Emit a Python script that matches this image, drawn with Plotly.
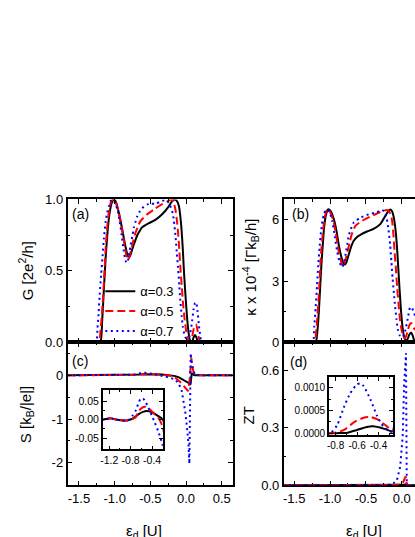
import plotly.graph_objects as go

# ---------------- data ----------------
labels = ["α=0.3", "α=0.5", "α=0.7"]

# (a) conductance G [2e^2/h]
G_x_03 = [-1.66, -1.25, -1.2, -1.175, -1.149, -1.125, -1.10, -1.075, -1.05, -1.025, -1.005, -0.98, -0.94, -0.905,
          -0.87, -0.835, -0.81, -0.795, -0.775, -0.755, -0.72, -0.685, -0.65, -0.615, -0.52, -0.43, -0.335, -0.242,
          -0.2, -0.16, -0.13, -0.10, -0.08, -0.065, -0.045, -0.032, -0.015, 0.0, 0.015, 0.03, 0.045, 0.06, 0.075,
          0.09, 0.105, 0.125, 0.145, 0.16, 0.175, 0.655]
G_y_03 = [0, 0, 0.0, 0.15, 0.39, 0.6, 0.77, 0.89, 0.96, 0.995, 1.0, 0.98, 0.905, 0.82,
          0.725, 0.64, 0.6, 0.594, 0.615, 0.65, 0.70, 0.748, 0.78, 0.805, 0.834, 0.857, 0.896, 0.952,
          0.985, 1.0, 0.99, 0.955, 0.88, 0.8, 0.65, 0.52, 0.38, 0.27, 0.17, 0.09, 0.035, 0.008, 0.0,
          0.01, 0.035, 0.052, 0.035, 0.01, 0.0, 0]
G_x_05 = [-1.66, -1.26, -1.22, -1.195, -1.17, -1.145, -1.125, -1.1, -1.07, -1.045, -1.02, -0.99, -0.95, -0.915,
          -0.883, -0.855, -0.832, -0.818, -0.8, -0.78, -0.763, -0.735, -0.707, -0.67, -0.637, -0.59, -0.544,
          -0.451, -0.358, -0.265, -0.205, -0.175, -0.149, -0.13, -0.112, -0.095, -0.079, -0.06, -0.042, -0.02,
          0.0, 0.02, 0.04, 0.065, 0.085, 0.105, 0.125, 0.14, 0.155, 0.175, 0.19, 0.2, 0.655]
G_y_05 = [0, 0, 0.0, 0.1, 0.26, 0.47, 0.67, 0.83, 0.95, 0.99, 1.0, 0.985, 0.92, 0.84,
          0.75, 0.66, 0.6, 0.578, 0.59, 0.625, 0.66, 0.72, 0.77, 0.815, 0.85, 0.875, 0.896,
          0.93, 0.96, 0.985, 1.0, 0.98, 0.93, 0.86, 0.77, 0.65, 0.52, 0.39, 0.27, 0.16,
          0.086, 0.035, 0.01, 0.01, 0.04, 0.09, 0.12, 0.125, 0.1, 0.04, 0.01, 0.0, 0]
G_x_07 = [-1.66, -1.28, -1.255, -1.24, -1.225, -1.21, -1.19, -1.17, -1.15, -1.125, -1.1, -1.08, -1.055, -1.03,
          -1.0, -0.962, -0.93, -0.902, -0.875, -0.846, -0.827, -0.81, -0.795, -0.776, -0.75, -0.73, -0.705,
          -0.683, -0.65, -0.614, -0.52, -0.428, -0.335, -0.28, -0.24, -0.195, -0.17, -0.149, -0.13, -0.112,
          -0.095, -0.08, -0.06, -0.046, -0.025, -0.01, 0.01, 0.035, 0.06, 0.085, 0.105, 0.125, 0.14, 0.16,
          0.18, 0.2, 0.22, 0.655]
G_y_07 = [0, 0, 0.0, 0.1, 0.2, 0.33, 0.47, 0.6, 0.73, 0.85, 0.92, 0.955, 0.99, 1.0,
          0.98, 0.93, 0.85, 0.75, 0.65, 0.57, 0.556, 0.58, 0.625, 0.68, 0.75, 0.805, 0.85,
          0.884, 0.915, 0.94, 0.97, 0.97, 0.99, 0.995, 0.975, 0.92, 0.85, 0.75, 0.63, 0.52,
          0.4, 0.29, 0.18, 0.11, 0.06, 0.035, 0.025, 0.03, 0.07, 0.15, 0.23, 0.275, 0.28, 0.22,
          0.12, 0.04, 0.0, 0]

# (b) thermal conductance kappa x 10^-4 [Gamma k_B/h]
K_x_03 = [-1.647, -1.25, -1.2, -1.175, -1.155, -1.135, -1.118, -1.1, -1.085, -1.06, -1.035, -1.02, -0.99,
          -0.947, -0.91, -0.878, -0.84, -0.81, -0.795, -0.775, -0.74, -0.7, -0.67, -0.62, -0.578, -0.485,
          -0.393, -0.3, -0.231, -0.19, -0.162, -0.135, -0.116, -0.09, -0.069, -0.05, -0.033, -0.012, 0.009,
          0.03, 0.055, 0.08, 0.105, 0.129, 0.15, 0.17, 0.184]
K_y_03 = [0, 0, 0, 0.6, 1.59, 2.9, 3.97, 4.85, 5.56, 6.2, 6.48, 6.52, 6.42,
          6.03, 5.45, 4.76, 4.15, 3.85, 3.81, 3.9, 4.29, 4.75, 4.98, 5.17, 5.27, 5.43,
          5.56, 5.79, 6.19, 6.42, 6.51, 6.42, 6.19, 5.6, 4.76, 3.7, 2.7, 1.6, 0.79,
          0.3, 0.12, 0.16, 0.38, 0.48, 0.35, 0.12, 0.0]
K_x_05 = [-1.647, -1.26, -1.215, -1.19, -1.164, -1.145, -1.127, -1.105, -1.085, -1.06, -1.039, -1.01, -0.96,
          -0.92, -0.887, -0.85, -0.818, -0.8, -0.762, -0.73, -0.702, -0.647, -0.554, -0.439, -0.324, -0.25,
          -0.208, -0.175, -0.148, -0.13, -0.116, -0.1, -0.083, -0.065, -0.046, -0.025, 0.0, 0.02, 0.037,
          0.06, 0.085, 0.11, 0.13, 0.15, 0.17, 0.184]
K_y_05 = [0, 0, 0, 0.7, 1.9, 3.1, 4.29, 5.2, 5.87, 6.35, 6.51, 6.45, 6.03,
          5.35, 4.6, 4.0, 3.73, 3.85, 4.37, 4.85, 5.24, 5.71, 5.95, 6.16, 6.35, 6.45,
          6.48, 6.4, 6.19, 5.8, 5.24, 4.4, 3.65, 2.7, 1.9, 1.1, 0.56, 0.3, 0.2,
          0.3, 0.6, 0.88, 0.95, 0.85, 0.7, 0.6]
K_x_07 = [-1.647, -1.28, -1.238, -1.22, -1.2, -1.182, -1.164, -1.145, -1.127, -1.105, -1.085, -1.065, -1.048,
          -1.01, -0.97, -0.935, -0.9, -0.865, -0.831, -0.81, -0.785, -0.76, -0.739, -0.7, -0.67, -0.578,
          -0.462, -0.347, -0.277, -0.24, -0.208, -0.185, -0.162, -0.145, -0.129, -0.11, -0.093, -0.075,
          -0.055, -0.03, 0.0, 0.03, 0.06, 0.09, 0.115, 0.135, 0.16, 0.184]
K_y_07 = [0, 0, 0, 0.8, 1.75, 2.8, 3.81, 4.7, 5.4, 5.95, 6.27, 6.45, 6.51,
          6.4, 5.95, 5.2, 4.44, 3.9, 3.68, 3.85, 4.29, 4.8, 5.24, 5.65, 5.87, 6.11,
          6.27, 6.38, 6.48, 6.4, 6.03, 5.5, 4.76, 3.95, 3.17, 2.4, 1.75, 1.15,
          0.63, 0.35, 0.24, 0.35, 0.75, 1.3, 1.7, 1.72, 1.55, 1.3]

# (c) thermopower S [k_B/|e|]
S_x_03 = [-1.66, -1.4, -1.32, -1.25, -1.18, -1.12, -1.05, -0.95, -0.87, -0.77, -0.71, -0.65, -0.57, -0.5,
          -0.42, -0.34, -0.27, -0.21, -0.15, -0.1, -0.05, -0.02, 0.01, 0.03, 0.05, 0.06, 0.07, 0.08, 0.095,
          0.12, 0.2, 0.655]
S_y_03 = [0, 0, 0, 0.002, 0.004, 0.002, 0, -0.002, -0.002, 0.002, 0.008, 0.015, 0.021, 0.023,
          0.021, 0.015, 0.008, 0.002, -0.02, -0.05, -0.09, -0.12, -0.15, -0.17, -0.2, -0.22, -0.1, 0.05, 0.02,
          0, 0, 0]
S_x_05 = [-1.66, -1.4, -1.32, -1.25, -1.18, -1.12, -1.05, -0.95, -0.87, -0.77, -0.71, -0.65, -0.59, -0.53,
          -0.47, -0.41, -0.35, -0.29, -0.21, -0.15, -0.1, -0.05, -0.01, 0.028, 0.05, 0.062, 0.074, 0.085,
          0.1, 0.13, 0.2, 0.655]
S_y_05 = [0, 0, 0, 0.002, 0.004, 0.002, 0, -0.002, -0.002, 0.002, 0.006, 0.023, 0.032, 0.035,
          0.031, 0.023, 0.014, 0.006, -0.016, -0.06, -0.12, -0.2, -0.29, -0.36, -0.1, 0.2, 0.39, 0.25,
          0.1, 0.0, 0, 0]
S_x_07 = [-1.66, -1.4, -1.32, -1.25, -1.18, -1.12, -1.05, -0.95, -0.87, -0.83, -0.77, -0.71, -0.66, -0.62,
          -0.57, -0.52, -0.47, -0.43, -0.39, -0.35, -0.29, -0.22, -0.15, -0.1, -0.06, -0.03, -0.01, 0.014,
          0.035, 0.046, 0.055, 0.065, 0.08, 0.095, 0.12, 0.2, 0.655]
S_y_07 = [0, 0, 0, 0.002, 0.004, 0.002, 0, -0.002, -0.002, 0.0, 0.01, 0.023, 0.042, 0.055,
          0.057, 0.048, 0.032, 0.02, 0.006, -0.008, -0.03, -0.06, -0.1, -0.2, -0.36, -0.61, -0.85, -1.21,
          -1.6, -2.02, -0.8, 0.5, 0.25, 0.14, 0.02, 0, 0]

# (d) figure of merit ZT
Z_x_03 = [-1.65, -0.9, -0.785, -0.69, -0.6, -0.51, -0.45, -0.354, -0.277, -0.2, -0.1, 0.0, 0.04, 0.07,
          0.085, 0.65]
Z_y_03 = [0, 0, 0, 0.00001, 0.00007, 0.000135, 0.00015, 0.0001, 0.00004, 0.00005, 0.0003, 0.002, 0.004,
          0.006, 0.0, 0]
Z_x_05 = [-1.65, -0.9, -0.83, -0.72, -0.631, -0.54, -0.477, -0.415, -0.338, -0.277, -0.2, -0.1, -0.02,
          0.013, 0.035, 0.05, 0.06, 0.07, 0.1, 0.65]
Z_y_05 = [0, 0, 0, 0.00007, 0.00024, 0.00034, 0.00036, 0.00031, 0.00018, 0.00007, 0.0001, 0.001, 0.004,
          0.012, 0.03, 0.045, 0.04, 0.0, 0, 0]
Z_x_07 = [-1.65, -0.9, -0.846, -0.785, -0.723, -0.662, -0.6, -0.57, -0.539, -0.477, -0.415, -0.354, -0.277,
          -0.2, -0.116, -0.07, -0.023, 0.013, 0.032, 0.05, 0.058, 0.069, 0.1, 0.65]
Z_y_07 = [0, 0, 0, 0.00018, 0.00057, 0.00089, 0.00108, 0.0011, 0.00104, 0.00075, 0.00039, 0.00014, 0.00003,
          0.001, 0.01, 0.025, 0.095, 0.26, 0.52, 0.68, 0.69, 0.0, 0, 0]

# tick labels
x_main_ticks = [-1.5, -1.0, -0.5, 0.0, 0.5]
x_main_text = ["-1.5", "-1.0", "-0.5", "0.0", "0.5"]
G_ticks = [0.0, 0.5, 1.0]
G_text = ["0.0", "0.5", "1.0"]
K_ticks = [0, 3, 6]
K_text = ["0", "3", "6"]
S_ticks = [-2, -1, 0]
S_text = ["-2", "-1", "0"]
Z_ticks = [0.0, 0.3, 0.6]
Z_text = ["0.0", "0.3", "0.6"]
Sin_xticks = [-1.2, -0.8, -0.4]
Sin_xtext = ["-1.2", "-0.8", "-0.4"]
Sin_yticks = [-0.05, 0.0, 0.05]
Sin_ytext = ["-0.05", "0.00", "0.05"]
Zin_xticks = [-0.8, -0.6, -0.4]
Zin_xtext = ["-0.8", "-0.6", "-0.4"]
Zin_yticks = [0.0, 0.0005, 0.0010]
Zin_ytext = ["0.0000", "0.0005", "0.0010"]

# ---------------- styling ----------------
FONT = "Liberation Sans, Arial, sans-serif"
W, H = 415, 537
colors = ["#000000", "#ff0000", "#0000ff"]
dashes = ["solid", "8px,4px", "2px,3.5px"]


def pxx(v):
    return v / W


def pyy(v):
    return 1 - v / H


G_series = [(G_x_03, G_y_03), (G_x_05, G_y_05), (G_x_07, G_y_07)]
K_series = [(K_x_03, K_y_03), (K_x_05, K_y_05), (K_x_07, K_y_07)]
S_series = [(S_x_03, S_y_03), (S_x_05, S_y_05), (S_x_07, S_y_07)]
Z_series = [(Z_x_03, Z_y_03), (Z_x_05, Z_y_05), (Z_x_07, Z_y_07)]

fig = go.Figure()


def add(series, xa, ya, legend=False, shape="spline"):
    for i, (xs, ys) in enumerate(series):
        fig.add_trace(go.Scatter(
            x=xs, y=ys, xaxis=xa, yaxis=ya, mode="lines", name=labels[i],
            showlegend=legend, legendgroup="g%d" % i,
            line=dict(color=colors[i], width=2, dash=dashes[i], shape=shape, smoothing=0.6)))


add(G_series, "x", "y", legend=True)
add(K_series, "x2", "y2")
add(S_series, "x3", "y3", shape="linear")
add(Z_series, "x4", "y4", shape="linear")
add(S_series, "x5", "y5")
add(Z_series, "x6", "y6")


def axis(domain, rng, anchor, tickvals, ticktext, minor_vals, labels_on=True, mirror="ticks",
         size=13, ticklen=5, mlen=3, layer="above traces"):
    return dict(domain=domain, range=rng, anchor=anchor, tickmode="array", tickvals=tickvals,
                ticktext=ticktext, showticklabels=labels_on, ticks="inside", ticklen=ticklen,
                tickwidth=1.2, tickcolor="black", showline=True, linecolor="black", linewidth=1.5,
                mirror=mirror, showgrid=False, zeroline=False, layer=layer,
                tickfont=dict(family=FONT, size=size, color="black"),
                minor=dict(tickvals=minor_vals, ticks="inside", ticklen=mlen, tickwidth=1.2,
                           tickcolor="black", showgrid=False))


xa_dom = [pxx(65), pxx(231.5)]
xb_dom = [pxx(282.7), 1.0]
y_top = [pyy(345), pyy(198)]
y_bot = [pyy(492), pyy(345)]
x_minor = [-1.25, -0.75, -0.25, 0.25]
xa_range = [-1.66, 0.655]
xb_range = [-1.647, 0.184]

fig.update_layout(
    xaxis=axis(xa_dom, xa_range, "y", x_main_ticks, x_main_text, x_minor, labels_on=False),
    yaxis=axis(y_top, [0, 1.0], "x", G_ticks, G_text, [0.25, 0.75]),
    xaxis2=axis(xb_dom, xb_range, "y2", x_main_ticks, x_main_text, x_minor, labels_on=False),
    yaxis2=axis(y_top, [0, 7], "x2", K_ticks, K_text, [1.5, 4.5], mirror=False),
    xaxis3=axis(xa_dom, xa_range, "y3", x_main_ticks, x_main_text, x_minor),
    yaxis3=axis(y_bot, [-2.51, 0.75], "x3", S_ticks, S_text, [-2.5, -1.5, -0.5, 0.5]),
    xaxis4=axis(xb_dom, xb_range, "y4", x_main_ticks, x_main_text, x_minor, layer="below traces"),
    yaxis4=axis(y_bot, [0, 0.747], "x4", Z_ticks, Z_text, [0.15, 0.45], mirror=False),
    xaxis5=axis([pxx(100.5), pxx(161)], [-1.32, -0.2], "y5", Sin_xticks, Sin_xtext,
                [-1.0, -0.6], size=10.5, ticklen=4, mlen=2),
    yaxis5=axis([pyy(455), pyy(394)], [-0.08, 0.08], "x5", Sin_yticks, Sin_ytext,
                [-0.025, 0.025], size=10.5, ticklen=4, mlen=2),
    xaxis6=axis([pxx(328.3), pxx(392.7)], [-0.862, -0.267], "y6", Zin_xticks, Zin_xtext,
                [-0.7, -0.5, -0.3], size=10, ticklen=4, mlen=2),
    yaxis6=axis([pyy(440.7), pyy(380.7)], [-0.00005, 0.00124], "x6", Zin_yticks, Zin_ytext,
                [0.00025, 0.00075], size=10, ticklen=4, mlen=2),
)

ann = []


def text(x, y, s, size=14, angle=0, xanchor="center", yanchor="middle"):
    ann.append(dict(x=pxx(x), y=pyy(y), xref="paper", yref="paper", text=s, showarrow=False,
                    textangle=angle, xanchor=xanchor, yanchor=yanchor,
                    font=dict(family=FONT, size=size, color="black")))


text(78, 213, "(a)")
text(300, 213, "(b)")
text(78, 364, "(c)")
text(298, 365, "(d)")
text(23, 271, "G [2e<sup>2</sup>/h]", size=15, angle=-90)
text(249, 268, "κ x 10<sup>-4</sup> [Γk<sub>B</sub>/h]", size=15, angle=-90)
text(23, 419, "S [k<sub>B</sub>/|e|]", size=15, angle=-90)
text(247, 420, "ZT", size=15, angle=-90)
text(142, 540, "ε<sub>d</sub> [U]", size=15)
text(364, 540, "ε<sub>d</sub> [U]", size=15)

fig.update_layout(
    annotations=ann,
    width=W, height=H, autosize=False,
    margin=dict(l=0, r=0, t=0, b=0, pad=0),
    paper_bgcolor="white", plot_bgcolor="white",
    showlegend=True,
    legend=dict(x=pxx(98), y=pyy(277), xanchor="left", yanchor="top", bgcolor="rgba(0,0,0,0)",
                borderwidth=0, font=dict(family=FONT, size=13, color="black"),
                traceorder="normal", itemwidth=30),
    font=dict(family=FONT, color="black"),
)

fig.write_html("out.html", config={"displayModeBar": False},
               post_script="document.body.style.margin='0';")
